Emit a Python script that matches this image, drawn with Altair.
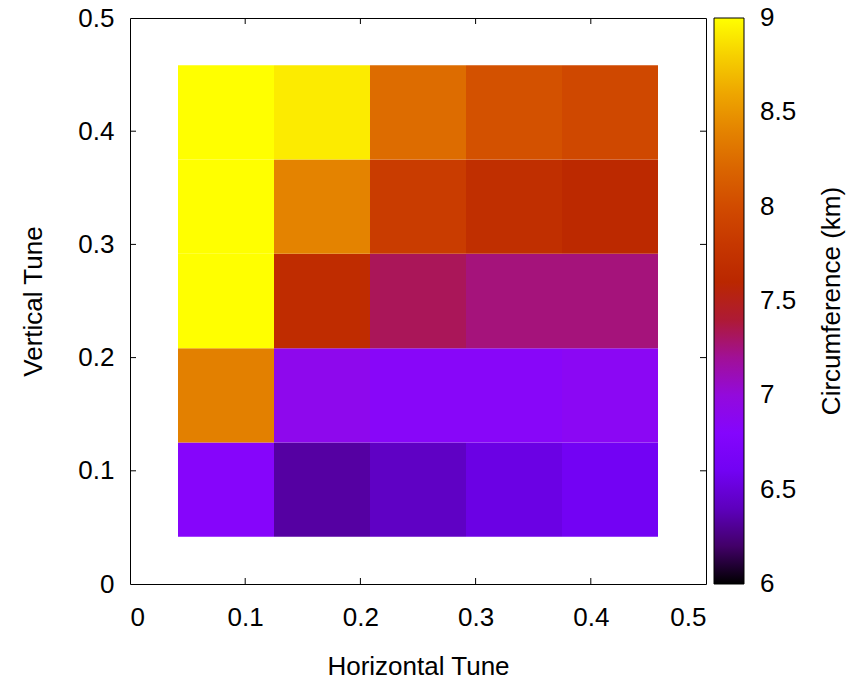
import altair as alt
import pandas as pd
import math

# ---- data ----
tune_centers = [1/12, 2/12, 3/12, 4/12, 5/12]   # cell centres (both axes)
cell_width = 1/12
# circumference (km), rows from bottom (vertical tune 1/12) to top (5/12)
row_1 = [6.83, 6.33, 6.42, 6.53, 6.61]
row_2 = [8.38, 6.93, 6.85, 6.85, 6.89]
row_3 = [9.00, 7.68, 7.33, 7.26, 7.26]
row_4 = [9.00, 8.40, 7.85, 7.71, 7.64]
row_5 = [9.00, 8.92, 8.25, 8.05, 7.97]
rows = [row_1, row_2, row_3, row_4, row_5]
x_ticks = [0.1, 0.2, 0.3, 0.4]
y_ticks = [0.1, 0.2, 0.3, 0.4]
cb_ticks = [6, 6.5, 7, 7.5, 8, 8.5, 9]
cb_inner_ticks = [6.5, 7, 7.5, 8, 8.5]
cb_range = [6, 9]
cb_title = "Circumference (km)"

recs = []
for j, vy in enumerate(tune_centers):
    for i, vx in enumerate(tune_centers):
        recs.append({
            "x0": vx - cell_width / 2, "x1": vx + cell_width / 2,
            "y0": vy - cell_width / 2, "y1": vy + cell_width / 2,
            "c": rows[j][i],
        })
df = pd.DataFrame(recs)

# gnuplot default pm3d palette (rgbformulae 7,5,15)
def pal(t):
    r = math.sqrt(t)
    g = t ** 3
    b = max(0.0, math.sin(2 * math.pi * t))
    return "#%02x%02x%02x" % (round(r * 255), round(g * 255), round(b * 255))

palette = [pal(k / 40) for k in range(41)]

W, H = 576, 566
FONT = "Liberation Sans"
FS = 26
TL = 6
CB_OFF, CB_W, CB_LAB = 8, 30, 16

xs = alt.Scale(domain=[0, 0.5], nice=False, zero=False)
ys = alt.Scale(domain=[0, 0.5], nice=False, zero=False)
cb_y = alt.Scale(domain=cb_range, range=[H, 0], nice=False, zero=False)

heat = alt.Chart(df).mark_rect(strokeWidth=0).encode(
    x=alt.X("x0:Q", scale=xs, title="Horizontal Tune",
            axis=alt.Axis(values=[0, 0.1, 0.2, 0.3, 0.4, 0.5], format="~g", grid=False,
                          domain=False, ticks=False, labelPadding=20, titlePadding=23)),
    x2="x1:Q",
    y=alt.Y("y0:Q", scale=ys, title="Vertical Tune",
            axis=alt.Axis(values=[0, 0.1, 0.2, 0.3, 0.4, 0.5], format="~g", grid=False,
                          domain=False, ticks=False, labelPadding=16, titlePadding=31)),
    y2="y1:Q",
    color=alt.Color("c:Q",
                    scale=alt.Scale(domain=cb_range, range=palette, interpolate="rgb", clamp=True),
                    legend=alt.Legend(type="gradient", title=None, values=cb_ticks,
                                      labelExpr="''", orient="right", offset=CB_OFF,
                                      gradientLength=H, gradientThickness=CB_W,
                                      gradientStrokeColor="#000000", gradientStrokeWidth=1)),
)

tdf = pd.DataFrame({"t": x_ticks})
ydf = pd.DataFrame({"t": y_ticks})
tick_style = dict(color="#000000", strokeWidth=1)
bx = alt.Chart(tdf).mark_rule(**tick_style).encode(
    x=alt.X("t:Q", scale=xs), y=alt.value(H), y2=alt.value(H - TL))
tx = alt.Chart(tdf).mark_rule(**tick_style).encode(
    x=alt.X("t:Q", scale=xs), y=alt.value(0), y2=alt.value(TL))
ly = alt.Chart(ydf).mark_rule(**tick_style).encode(
    y=alt.Y("t:Q", scale=ys), x=alt.value(0), x2=alt.value(TL))
ry = alt.Chart(ydf).mark_rule(**tick_style).encode(
    y=alt.Y("t:Q", scale=ys), x=alt.value(W), x2=alt.value(W - TL))

# colour-bar labels and inward ticks (positioned by their own value scale)
cbl_df = pd.DataFrame({"v": cb_ticks})
cbt_df = pd.DataFrame({"v": cb_inner_ticks})
cb_labels = alt.Chart(cbl_df).mark_text(
    font=FONT, fontSize=FS, color="#000000", align="left", baseline="middle"
).encode(
    y=alt.Y("v:Q", scale=cb_y, axis=None),
    x=alt.value(W + CB_OFF + CB_W + CB_LAB),
    text=alt.Text("v:Q", format="~g"),
)
cb_tl = alt.Chart(cbt_df).mark_rule(**tick_style).encode(
    y=alt.Y("v:Q", scale=cb_y, axis=None),
    x=alt.value(W + CB_OFF), x2=alt.value(W + CB_OFF + TL))
cb_tr = alt.Chart(cbt_df).mark_rule(**tick_style).encode(
    y=alt.Y("v:Q", scale=cb_y, axis=None),
    x=alt.value(W + CB_OFF + CB_W), x2=alt.value(W + CB_OFF + CB_W - TL))

title_txt = alt.Chart(pd.DataFrame({"t": [cb_title]})).mark_text(
    font=FONT, fontSize=FS, color="#000000", angle=270, align="center", baseline="middle"
).encode(text="t:N", x=alt.value(W + 126), y=alt.value(H / 2))

main = alt.layer(heat, bx, tx, ly, ry)
cbar = alt.layer(cb_tl, cb_tr, cb_labels, title_txt)

chart = alt.layer(main, cbar).resolve_scale(y="independent").properties(
    width=W, height=H,
    background="white",
    autosize=alt.AutoSizeParams(type="none"),
    padding={"left": 122, "top": 10, "right": 140, "bottom": 91},
).configure_view(
    stroke="#000000", strokeWidth=1
).configure_axis(
    labelFont=FONT, titleFont=FONT, labelFontSize=FS, titleFontSize=FS,
    labelColor="#000000", titleColor="#000000", titleFontWeight="normal"
).configure_legend(
    labelFont=FONT, titleFont=FONT, labelFontSize=FS, titleFontSize=FS,
    labelColor="#000000", titleColor="#000000", titleFontWeight="normal",
    padding=0
)

chart.save("out.html", embed_options={"renderer": "svg", "actions": False})
